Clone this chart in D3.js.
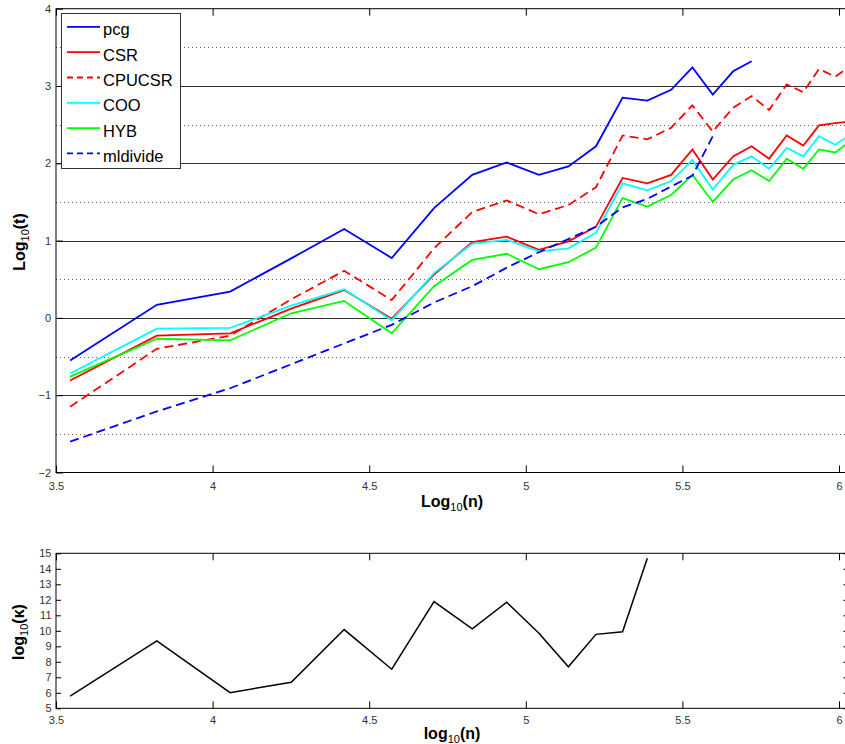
<!DOCTYPE html>
<html>
<head>
<meta charset="utf-8">
<script src="https://cdn.jsdelivr.net/npm/d3@7"></script>
<style>
  body { margin: 0; background: #fff; }
  svg { display: block; font-family: "Liberation Sans", Arial, sans-serif; }
</style>
</head>
<body>
<div id="chart"></div>
<script>
// log10(n) of each problem size, shared by all series
var logN = [3.545, 3.822, 4.056, 4.251, 4.420, 4.572, 4.707, 4.829, 4.939, 5.042, 5.136, 5.224, 5.309,
            5.388, 5.464, 5.532, 5.597, 5.662, 5.721, 5.777, 5.833, 5.886, 5.936, 5.988, 6.040];

// log10(t) per solver
var pcg = [-0.55, 0.17, 0.34, 0.77, 1.15, 0.775, 1.42, 1.85, 2.01, 1.85, 1.96, 2.22, 2.85, 2.81, 2.95, 3.24, 2.89, 3.19, 3.32];
var csr = [-0.81, -0.23, -0.20, 0.12, 0.36, -0.01, 0.56, 0.98, 1.05, 0.88, 0.99, 1.18, 1.81, 1.74, 1.85, 2.18, 1.79, 2.09, 2.22, 2.06, 2.36, 2.23, 2.49, 2.52, 2.54];
var cpucsr = [-1.15, -0.40, -0.23, 0.24, 0.61, 0.23, 0.90, 1.37, 1.52, 1.34, 1.46, 1.69, 2.36, 2.31, 2.46, 2.75, 2.41, 2.72, 2.87, 2.69, 3.02, 2.92, 3.22, 3.12, 3.27];
var coo = [-0.72, -0.14, -0.13, 0.16, 0.37, -0.03, 0.58, 0.96, 1.01, 0.86, 0.90, 1.10, 1.74, 1.65, 1.77, 2.04, 1.66, 1.98, 2.09, 1.93, 2.20, 2.09, 2.35, 2.24, 2.38];
var hyb = [-0.76, -0.27, -0.29, 0.06, 0.22, -0.20, 0.41, 0.75, 0.83, 0.63, 0.72, 0.91, 1.55, 1.44, 1.59, 1.85, 1.50, 1.79, 1.91, 1.77, 2.06, 1.93, 2.18, 2.14, 2.30];
var mldivide = [-1.60, -1.21, -0.91, -0.60, -0.33, -0.09, 0.20, 0.41, 0.65, 0.85, 1.02, 1.18, 1.43, 1.54, 1.70, 1.84, 2.35];

// log10(kappa)
var kappa = [5.79, 9.35, 6.01, 6.68, 10.08, 7.52, 11.88, 10.12, 11.84, 9.84, 7.68, 9.77, 9.94, 14.68];

var seriesNames = ['pcg', 'CSR', 'CPUCSR', 'COO', 'HYB', 'mldivide'];
var seriesValues = [pcg, csr, cpucsr, coo, hyb, mldivide];
var seriesColors = ['#0000ff', '#ff0000', '#ff0000', '#00ffff', '#00ff00', '#0000ff'];
var seriesDashed = [false, false, true, false, false, true];

var xTicks = [3.5, 4, 4.5, 5, 5.5, 6];
var yTicksTop = [-2, -1, 0, 1, 2, 3, 4];
var yTicksBottom = [5, 6, 7, 8, 9, 10, 11, 12, 13, 14, 15];

var width = 845;
var height = 744;

var svg = d3.select('#chart')
    .append('svg')
    .attr('width', width)
    .attr('height', height);

var x = d3.scaleLinear()
    .domain([3.5, 6.03])
    .range([56, 56 + 2.53 * 313.2]);

var yTop = d3.scaleLinear()
    .domain([-2, 4])
    .range([472.5, 8.7]);

var yBot = d3.scaleLinear()
    .domain([5, 15])
    .range([708.3, 553.3]);

function label(px, py, pre, sub, post, rotate) {
    var t = svg.append('text')
        .attr('transform', `translate(${px},${py})` + (rotate ? ' rotate(-90)' : ''))
        .attr('text-anchor', 'middle')
        .attr('font-size', 16)
        .attr('font-weight', 'bold')
        .attr('fill', '#000');
    t.append('tspan').text(pre);
    t.append('tspan').attr('font-size', 11).attr('font-weight', 'normal').attr('dy', 4).text(sub);
    t.append('tspan').attr('dy', -4).text(post);
}

function styleAxis(g) {
    g.select('.domain').remove();
    g.selectAll('.tick line').attr('stroke', '#000');
    g.selectAll('.tick text')
        .attr('font-family', '"Liberation Sans", Arial, sans-serif')
        .attr('font-size', 11)
        .attr('fill', '#333');
}

// ---------- top panel ----------
var topPanel = svg.append('g');

// grid: dotted at halves, solid at integers
topPanel.append('g')
    .selectAll('line').data(d3.range(-1.5, 4, 1)).enter().append('line')
    .attr('x1', x(3.5)).attr('x2', x(6.03))
    .attr('y1', d => Math.round(yTop(d)) + 0.5).attr('y2', d => Math.round(yTop(d)) + 0.5)
    .attr('stroke', '#666')
    .attr('stroke-dasharray', '1,3');

topPanel.append('g')
    .selectAll('line').data([-1, 0, 1, 2, 3]).enter().append('line')
    .attr('x1', x(3.5)).attr('x2', x(6.03))
    .attr('y1', d => Math.round(yTop(d)) + 0.5).attr('y2', d => Math.round(yTop(d)) + 0.5)
    .attr('stroke', '#333');

topPanel.append('g')
    .attr('transform', `translate(0,${yTop(-2)})`)
    .call(d3.axisBottom(x).tickValues(xTicks).tickSize(-7).tickPadding(9.5).tickFormat(d3.format('')))
    .call(styleAxis);

topPanel.append('g')
    .attr('transform', `translate(0,${yTop(4)})`)
    .call(d3.axisTop(x).tickValues(xTicks).tickSize(-7).tickFormat(''))
    .call(styleAxis);

topPanel.append('g')
    .attr('transform', `translate(${x(3.5)},0)`)
    .call(d3.axisLeft(yTop).tickValues(yTicksTop).tickSize(-7).tickPadding(5).tickFormat(d3.format('')))
    .call(styleAxis);

topPanel.append('rect')
    .attr('x', x(3.5)).attr('y', yTop(4))
    .attr('width', x(6.03) - x(3.5)).attr('height', yTop(-2) - yTop(4))
    .attr('fill', 'none').attr('stroke', '#000');

var line = d3.line()
    .x(d => x(d[0]))
    .y(d => yTop(d[1]));

topPanel.append('g')
    .selectAll('path').data(seriesValues).enter().append('path')
    .attr('d', d => line(d3.zip(logN, d)))
    .attr('fill', 'none')
    .attr('stroke', (d, i) => seriesColors[i])
    .attr('stroke-width', 1.8)
    .attr('stroke-dasharray', (d, i) => seriesDashed[i] ? '9,5' : null);

// legend
var legend = topPanel.append('g');
legend.append('rect')
    .attr('x', 61.5).attr('y', 13.5)
    .attr('width', 119).attr('height', 155)
    .attr('fill', '#fff').attr('stroke', '#333');

var rows = legend.selectAll('g').data(seriesNames).enter().append('g')
    .attr('transform', (d, i) => `translate(0,${26.9 + i * 25.3})`);

rows.append('line')
    .attr('x1', 67).attr('x2', 100)
    .attr('stroke', (d, i) => seriesColors[i])
    .attr('stroke-width', 1.8)
    .attr('stroke-dasharray', (d, i) => seriesDashed[i] ? '6,4' : null);

rows.append('text')
    .attr('x', 103).attr('y', 8.5)
    .attr('font-size', 16.5)
    .text(d => d);

label(452, 506.5, 'Log', '10', '(n)', false);
label(25, 242, 'Log', '10', '(t)', true);

// ---------- bottom panel ----------
var botPanel = svg.append('g');

botPanel.append('g')
    .attr('transform', `translate(0,${yBot(5)})`)
    .call(d3.axisBottom(x).tickValues(xTicks).tickSize(-7).tickPadding(8).tickFormat(d3.format('')))
    .call(styleAxis);

botPanel.append('g')
    .attr('transform', `translate(0,${yBot(15)})`)
    .call(d3.axisTop(x).tickValues(xTicks).tickSize(-7).tickFormat(''))
    .call(styleAxis);

botPanel.append('g')
    .attr('transform', `translate(${x(3.5)},0)`)
    .call(d3.axisLeft(yBot).tickValues(yTicksBottom).tickSize(-5).tickPadding(4.5).tickFormat(d3.format('')))
    .call(styleAxis);

botPanel.append('g')
    .attr('transform', `translate(${x(6.03)},0)`)
    .call(d3.axisRight(yBot).tickValues(yTicksBottom).tickSize(-5).tickFormat(''))
    .call(styleAxis);

botPanel.append('rect')
    .attr('x', x(3.5)).attr('y', yBot(15))
    .attr('width', x(6.03) - x(3.5)).attr('height', yBot(5) - yBot(15))
    .attr('fill', 'none').attr('stroke', '#000');

botPanel.append('path')
    .attr('d', d3.line().x(d => x(d[0])).y(d => yBot(d[1]))(d3.zip(logN, kappa)))
    .attr('fill', 'none')
    .attr('stroke', '#000')
    .attr('stroke-width', 1.5);

label(452, 738.5, 'log', '10', '(n)', false);
label(24, 632, 'log', '10', '(\u03ba)', true);
</script>
</body>
</html>
